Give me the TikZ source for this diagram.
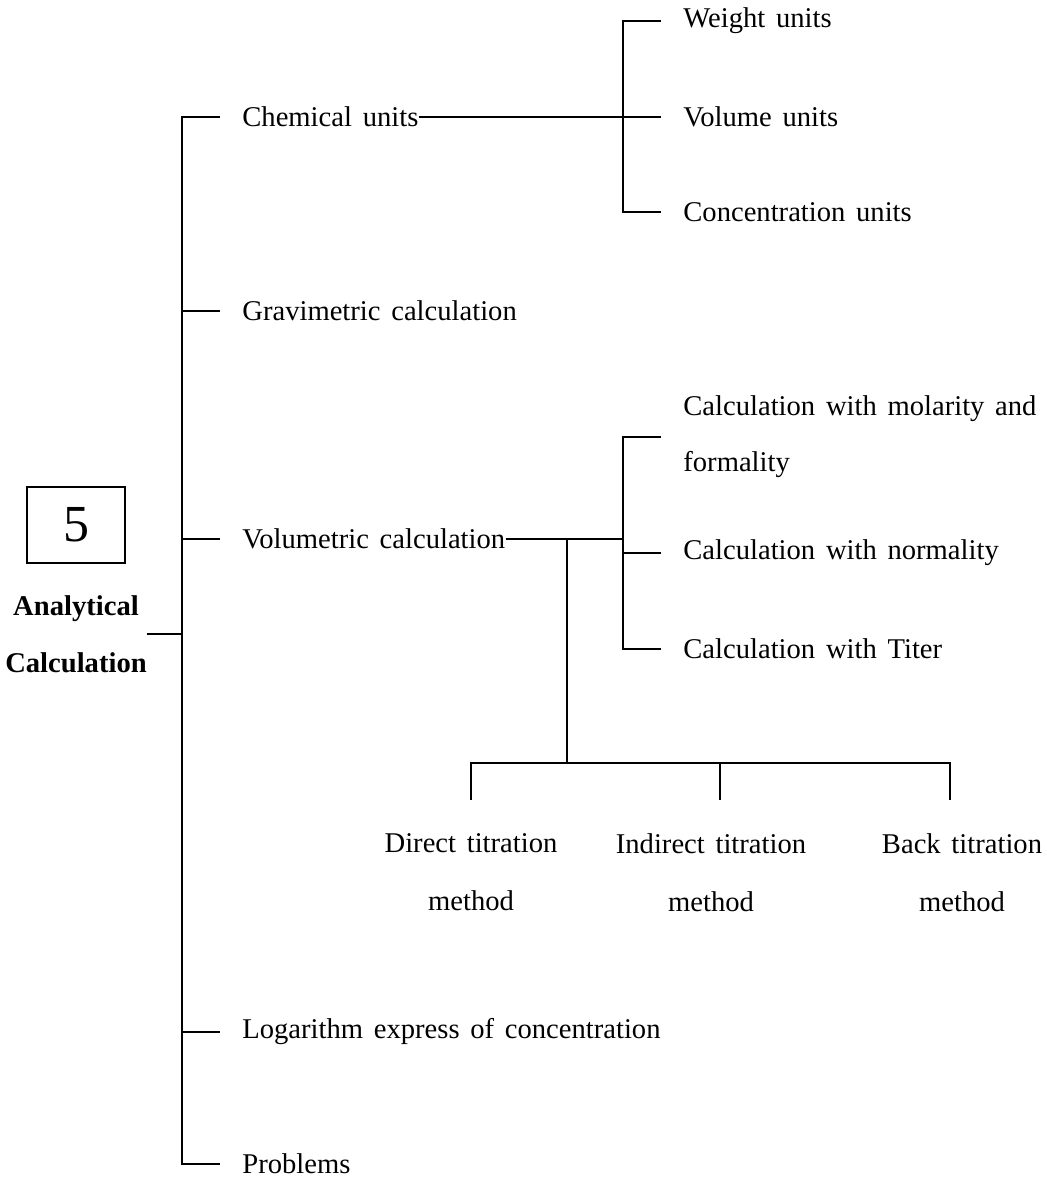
\documentclass[tikz,border=0pt]{standalone}
\usepackage{fontspec}
\setmainfont{Liberation Serif}[WordSpace=1.5]
\usetikzlibrary{positioning,calc}
\tikzset{
  lbl/.style={anchor=west,inner xsep=0pt,align=left,font=\fontsize{14.3}{28}\selectfont},
  meth/.style={anchor=north,align=center,inner sep=0pt,font=\fontsize{14.3}{29}\selectfont},
  rootlbl/.style={align=center,inner sep=0pt,font=\fontsize{14.3}{28.5}\selectfont\bfseries},
  numbox/.style={draw,line width=1pt,minimum width=49pt,minimum height=38pt,font=\fontsize{26}{30}\selectfont},
  br/.style={line width=0.9pt},
}

\begin{document}
\begin{tikzpicture}[x=0.5pt,y=-0.5pt]
  \useasboundingbox (0,0) rectangle (1047,1182);
  % root
  \node[rootlbl] (root) at (76,634) {Analytical\\Calculation};
  \node[numbox,above=15.5pt of root] (num) {5};
  % main branches
  \node[lbl] (chem) at (242,117) {Chemical units};
  \node[lbl] (grav) at (242,311) {Gravimetric calculation};
  \node[lbl] (volc) at (242,539) {Volumetric calculation};
  \node[lbl] (loga) at (242,1032) {Logarithm express of concentration};
  \node[lbl] (prob) at (242,1164) {Problems};
  % chemical units
  \node[lbl] (wt) at (683,21) {Weight units};
  \node[lbl] (volu) at (683,117) {Volume units};
  \node[lbl] (conc) at (683,212) {Concentration units};
  % volumetric calculation
  \node[lbl] (mol) at (683,437) {Calculation with molarity and\\formality};
  \node[lbl] (norm) at (683,553) {Calculation with normality};
  \node[lbl] (tit) at (683,649) {Calculation with Titer};
  \node[meth] (dir) at (471,833) {Direct titration\\method};
  \node[meth] (ind) at (711,833) {Indirect titration\\method};
  \node[meth] (back) at (962,833) {Back titration\\method};
  \coordinate (gj) at ($(grav.west)+(-60,0)$);
  \coordinate (cj) at ($(volu.west)+(-60,0)$);
  \coordinate (vj) at (567,539);
  \coordinate (vs) at (623,539);
  % main spine
  \draw[br,shorten <=11pt,shorten >=11pt] (chem.west) -- ++(-60,0) |- (prob.west);
  \draw[br,shorten <=11pt] (grav.west) -- ++(-60,0);
  \draw[br,shorten <=11pt] (volc.west) -- ++(-60,0);
  \draw[br,shorten <=11pt] (loga.west) -- ++(-60,0);
  \draw[br] (root.east) -- (root.east -| gj);
  % units spine
  \draw[br] (chem.east) -- (cj);
  \draw[br,shorten <=11pt,shorten >=11pt] (wt.west) -- ++(-60,0) |- (conc.west);
  \draw[br,shorten <=11pt] (volu.west) -- ++(-60,0);
  % volumetric spine
  \draw[br] (volc.east) -- (vs);
  \draw[br,shorten <=11pt,shorten >=11pt] (mol.west) -- ++(-60,0) |- (tit.west);
  \draw[br,shorten <=11pt] (norm.west) -- ++(-60,0);
  % titration methods
  \draw[br] (vj) -- ++(0,224);
  \draw[br,shorten <=16.5pt,shorten >=16.5pt] (dir.north) -- ++(0,-70) -| ([xshift=-6pt]back.north);
  \draw[br,shorten <=16.5pt] ([xshift=4.5pt]ind.north) -- ++(0,-70);
\end{tikzpicture}
\end{document}
